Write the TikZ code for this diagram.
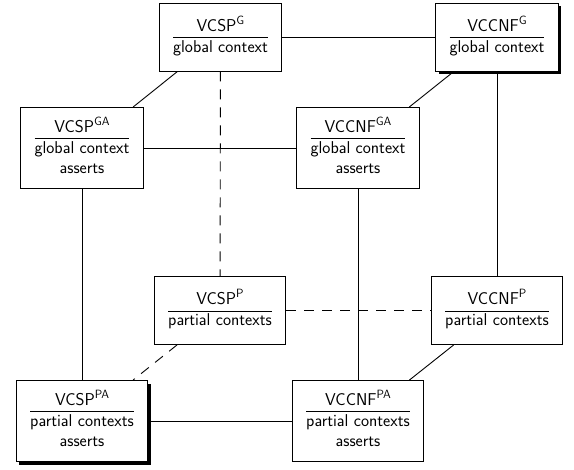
\documentclass[tikz,border=0pt]{standalone}
\usetikzlibrary{shadows}
\setlength{\arrayrulewidth}{0.9pt}
\newcommand{\boxtxt}[2]{\begin{tabular}{@{}c@{}}#1\\\hline #2\end{tabular}}
\newcommand{\sups}[1]{\raisebox{0.42em}{\fontsize{12}{12}\selectfont #1}}
\begin{document}
\begin{tikzpicture}[x=1bp,y=-1bp,
  box/.style={draw,line width=0.9bp,fill=white,inner xsep=14bp,inner ysep=0pt,
    font=\sffamily\fontsize{17.2}{20}\selectfont},
  two/.style={box,minimum height=68bp},
  three/.style={box,minimum height=81bp},
  shad/.style={drop shadow={shadow xshift=3bp,shadow yshift=-3bp,opacity=1,fill=black}},
  link/.style={line width=0.9bp},
  dlink/.style={link,dash pattern=on 10bp off 8bp}]
\useasboundingbox (0,0) rectangle (574,470);
\node[two] (sg) at (220.5,37) {\boxtxt{VCSP\sups{G}}{global context}};
\node[two,shad] (cg) at (497,37) {\boxtxt{VCCNF\sups{G}}{global context}};
\node[three] (sga) at (82,148) {\boxtxt{VCSP\sups{GA}}{global context\\asserts}};
\node[three] (cga) at (358,148) {\boxtxt{VCCNF\sups{GA}}{global context\\asserts}};
\node[two] (sp) at (220,310.5) {\boxtxt{VCSP\sups{P}}{partial contexts}};
\node[two] (cp) at (497,310.5) {\boxtxt{VCCNF\sups{P}}{partial contexts}};
\node[three,shad] (spa) at (82,421) {\boxtxt{VCSP\sups{PA}}{partial contexts\\asserts}};
\node[three] (cpa) at (358,421) {\boxtxt{VCCNF\sups{PA}}{partial contexts\\asserts}};
\draw[link] (sg) -- (cg);
\draw[link] (sg) -- (sga);
\draw[dlink] (sg) -- (sp);
\draw[link] (cg) -- (cga);
\draw[link] (cg) -- (cp);
\draw[link] (sga) -- (cga);
\draw[link] (sga) -- (spa);
\draw[link] (cga) -- (cpa);
\draw[dlink] (sp) -- (cp);
\draw[dlink] (sp) -- (spa);
\draw[link] (cp) -- (cpa);
\draw[link] (spa) -- (cpa);
\end{tikzpicture}
\end{document}
